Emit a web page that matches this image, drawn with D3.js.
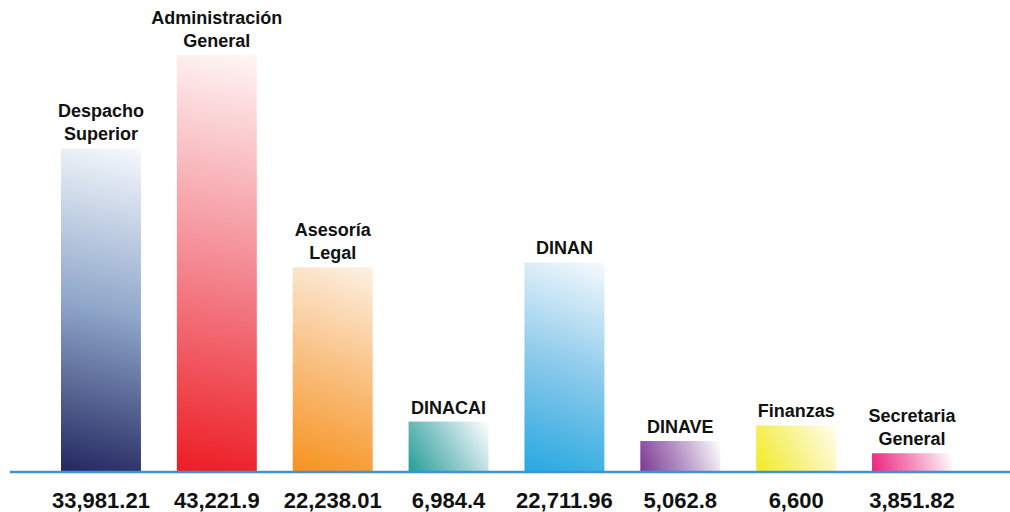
<!DOCTYPE html>
<html>
<head>
<meta charset="utf-8">
<script src="https://cdn.jsdelivr.net/npm/d3@7"></script>
<style>
  body { margin: 0; background: #fff; }
  text { font-family: "Liberation Sans", Arial, sans-serif; font-weight: bold; fill: #111; }
</style>
</head>
<body>
<script>
let width = 1010;
let height = 512;

// data
let categories = ["Despacho Superior", "Administración General", "Asesoría Legal", "DINACAI",
  "DINAN", "DINAVE", "Finanzas", "Secretaria General"];
let labelLines = [["Despacho", "Superior"], ["Administración", "General"], ["Asesoría", "Legal"],
  ["DINACAI"], ["DINAN"], ["DINAVE"], ["Finanzas"], ["Secretaria", "General"]];
let values = [33981.21, 43221.9, 22238.01, 6984.4, 22711.96, 5062.8, 6600, 3851.82];
let valueLabels = ["33,981.21", "43,221.9", "22,238.01", "6,984.4", "22,711.96", "5,062.8", "6,600", "3,851.82"];
// bottom, middle, top colour of each bar's gradient
let barColors = [
  ["#23275f", "#8ea6c9", "#f6f9fd"],
  ["#ed1c24", "#f48a93", "#fff6f6"],
  ["#f7921e", "#f9bf80", "#fdf1e4"],
  ["#259d96", "#92cbcd", "#ffffff"],
  ["#26a8e0", "#8ccaeb", "#f6fafd"],
  ["#7a3a94", "#b995c7", "#ffffff"],
  ["#f2ea25", "#f8f38a", "#fffef0"],
  ["#eb247f", "#f48dbb", "#ffffff"]
];

let baseY = 472;

let svg = d3.select("body").append("svg")
  .attr("width", width)
  .attr("height", height);

let x = d3.scaleBand()
  .domain(categories)
  .range([61, 952])
  .paddingInner(0.31)
  .paddingOuter(0);

// axis does not start at zero in the original picture
let y = d3.scaleLinear()
  .domain([2000, 45000])
  .range([baseY, 37]);

let data = categories.map((c, i) => ({
  cat: c, value: values[i], lines: labelLines[i], label: valueLabels[i], colors: barColors[i], i: i
}));

// one diagonal gradient per bar, bottom-left dark to top-right light
let defs = svg.append("defs");
data.forEach(d => {
  let x0 = x(d.cat), y0 = y(d.value), w = x.bandwidth(), h = baseY - y0;
  let g = defs.append("linearGradient")
    .attr("id", "grad" + d.i)
    .attr("gradientUnits", "userSpaceOnUse")
    .attr("x1", x0).attr("y1", y0 + h)
    .attr("x2", x0 + w).attr("y2", y0);
  g.append("stop").attr("offset", "0%").attr("stop-color", d.colors[0]);
  g.append("stop").attr("offset", "50%").attr("stop-color", d.colors[1]);
  g.append("stop").attr("offset", "100%").attr("stop-color", d.colors[2]);
});

svg.append("g")
  .selectAll("rect")
  .data(data)
  .enter()
  .append("rect")
  .attr("x", d => x(d.cat))
  .attr("y", d => y(d.value))
  .attr("width", x.bandwidth())
  .attr("height", d => baseY - y(d.value))
  .attr("fill", d => "url(#grad" + d.i + ")");

// baseline
svg.append("line")
  .attr("x1", 10).attr("x2", 1010)
  .attr("y1", baseY).attr("y2", baseY)
  .attr("stroke", "#3d93d5")
  .attr("stroke-width", 2.5);

// category names above bars
let names = svg.append("g")
  .selectAll("text")
  .data(data)
  .enter()
  .append("text")
  .attr("text-anchor", "middle")
  .attr("font-size", 18);

names.each(function(d) {
  let t = d3.select(this);
  let n = d.lines.length;
  d.lines.forEach((line, k) => {
    t.append("tspan")
      .attr("x", x(d.cat) + x.bandwidth() / 2)
      .attr("y", y(d.value) - 8 - (n - 1 - k) * 23)
      .text(line);
  });
});

// values below the baseline
svg.append("g")
  .selectAll("text")
  .data(data)
  .enter()
  .append("text")
  .attr("x", d => x(d.cat) + x.bandwidth() / 2)
  .attr("y", 508)
  .attr("text-anchor", "middle")
  .attr("font-size", 22)
  .text(d => d.label);
</script>
</body>
</html>
